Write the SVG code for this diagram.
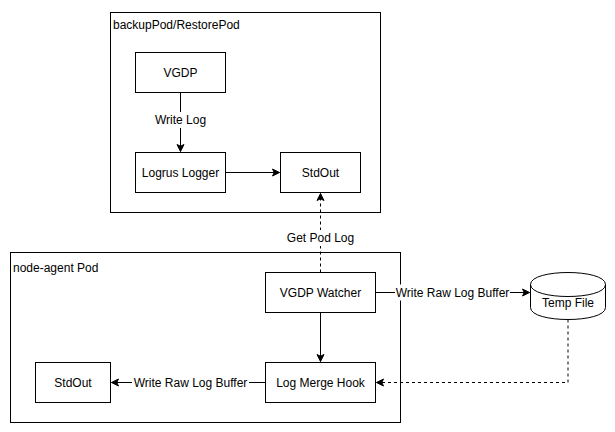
<svg xmlns="http://www.w3.org/2000/svg" width="615" height="432" viewBox="0 0 615 432">
  <style>
    .box { fill: #ffffff; stroke: #000000; stroke-width: 1; }
    .t { font-family: "Liberation Sans", Arial, Helvetica, sans-serif; font-size: 12px; fill: #000000; }
    .c { text-anchor: middle; }
    .edge { fill: none; stroke: #000000; stroke-width: 1; }
    .dash { stroke-dasharray: 3 3; }
    .lblbg { fill: #ffffff; stroke: none; }
  </style>
  <defs>
    <marker id="arrow" markerUnits="userSpaceOnUse" markerWidth="10" markerHeight="10" viewBox="-8 -5 10 10" refX="0" refY="0" orient="auto" overflow="visible">
      <path d="M-7,-3.5 L0,0 L-7,3.5 L-5.25,0 Z" fill="#000000" stroke="#000000" stroke-width="1" stroke-dasharray="none"/>
    </marker>
  </defs>
  <rect width="615" height="432" fill="#ffffff"/>

  <g id="backupPod-container">
    <rect class="box" x="110.5" y="12.5" width="270" height="200"/>
    <text class="t" x="113" y="29">backupPod/RestorePod</text>
  </g>
  <g id="node-agent-container">
    <rect class="box" x="10.5" y="252.5" width="390" height="170"/>
    <text class="t" x="13" y="272">node-agent Pod</text>
  </g>

  <g id="connectors">
    <path class="edge" d="M180.5,92.5 V151.5" marker-end="url(#arrow)"/>
    <rect class="lblbg" x="154" y="112" width="53" height="16"/>
    <text class="t c" x="180.5" y="124">Write Log</text>

    <path class="edge" d="M225.5,172.5 H279.5" marker-end="url(#arrow)"/>

    <path class="edge dash" d="M320.5,272.5 V193.5" marker-end="url(#arrow)"/>
    <rect class="lblbg" x="286" y="230" width="69" height="16"/>
    <text class="t c" x="320.5" y="242">Get Pod Log</text>

    <path class="edge" d="M375.5,292.5 H529.5" marker-end="url(#arrow)"/>
    <rect class="lblbg" x="395" y="284.5" width="115" height="16"/>
    <text class="t c" x="452.5" y="296.5">Write Raw Log Buffer</text>

    <path class="edge" d="M320.5,312.5 V361.5" marker-end="url(#arrow)"/>

    <path class="edge" d="M265.5,382.5 H111.5" marker-end="url(#arrow)"/>
    <rect class="lblbg" x="132" y="374.5" width="117" height="16"/>
    <text class="t c" x="190.5" y="386.5">Write Raw Log Buffer</text>

    <path class="edge dash" d="M568,319.5 V382.5 H376.5" marker-end="url(#arrow)"/>
  </g>

  <g id="vgdp">
    <rect class="box" x="135.5" y="52.5" width="90" height="40"/>
    <text class="t c" x="180.5" y="76.5">VGDP</text>
  </g>
  <g id="logrus-logger">
    <rect class="box" x="135.5" y="152.5" width="90" height="40"/>
    <text class="t c" x="180.5" y="176.5">Logrus Logger</text>
  </g>
  <g id="stdout-backup">
    <rect class="box" x="280.5" y="152.5" width="80" height="40"/>
    <text class="t c" x="320.5" y="176.5">StdOut</text>
  </g>
  <g id="vgdp-watcher">
    <rect class="box" x="265.5" y="272.5" width="110" height="40"/>
    <text class="t c" x="320.5" y="296.5">VGDP Watcher</text>
  </g>
  <g id="log-merge-hook">
    <rect class="box" x="265.5" y="362.5" width="110" height="40"/>
    <text class="t c" x="320.5" y="386.5">Log Merge Hook</text>
  </g>
  <g id="stdout-node-agent">
    <rect class="box" x="35.5" y="362.5" width="75" height="40"/>
    <text class="t c" x="73" y="386.5">StdOut</text>
  </g>
  <g id="temp-file">
    <path class="box" d="M530.5,284.5 C530.5,268.5 605.5,268.5 605.5,284.5 L605.5,307.5 C605.5,323.5 530.5,323.5 530.5,307.5 Z"/>
    <path class="edge" d="M530.5,284.5 C530.5,300.5 605.5,300.5 605.5,284.5"/>
    <text class="t c" x="568" y="307">Temp File</text>
  </g>
</svg>
